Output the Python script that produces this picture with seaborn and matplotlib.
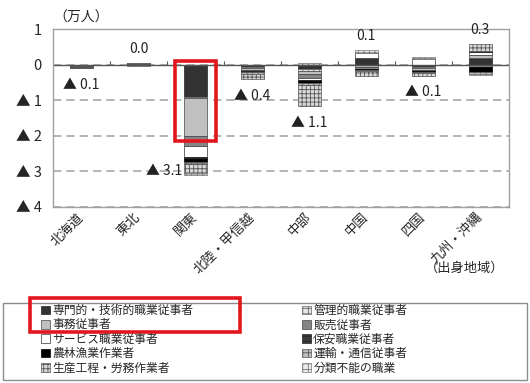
import numpy as np
import pandas as pd
import matplotlib
matplotlib.use("Agg")
import matplotlib.pyplot as plt
from matplotlib.patches import Patch, Rectangle
import seaborn as sns

# Regions of origin (x axis)
regions = ["北海道", "東北", "関東", "北陸・甲信越", "中部", "中国", "四国", "九州・沖縄"]

# Occupation groups in stacking order
occupations = [
    "専門的・技術的職業従事者", "管理的職業従事者", "事務従事者", "販売従事者",
    "サービス職業従事者", "保安職業従事者", "農林漁業作業者", "運輸・通信従事者",
    "生産工程・労務作業者", "分類不能の職業",
]

# Change by occupation (10,000 persons), one list per occupation, regions in order
senmon  = [-0.05,  0.02, -0.92, -0.08, -0.12,  0.18, -0.08,  0.18]
kanri   = [ 0.00,  0.00, -0.03, -0.01, -0.05, -0.02, -0.01,  0.02]
jimu    = [-0.03, -0.02, -1.05, -0.05, -0.10, -0.06, -0.05,  0.06]
hanbai  = [-0.01,  0.00, -0.30, -0.03, -0.10, -0.04, -0.04, -0.08]
service = [ 0.00,  0.02, -0.30, -0.02, -0.05,  0.15,  0.15,  0.10]
hoan    = [ 0.00,  0.00, -0.05, -0.01, -0.05,  0.01,  0.01,  0.02]
nourin  = [ 0.00,  0.00, -0.08, -0.02, -0.04, -0.03, -0.03, -0.12]
unyu    = [ 0.00,  0.00, -0.07, -0.03, -0.05, -0.04, -0.02, -0.05]
seisan  = [-0.01, -0.02, -0.25, -0.15, -0.60, -0.12, -0.08,  0.20]
fumei   = [ 0.00,  0.00, -0.05,  0.00,  0.06,  0.07,  0.05, -0.03]

series = [senmon, kanri, jimu, hanbai, service, hoan, nourin, unyu, seisan, fumei]

y_ticks = [1, 0, -1, -2, -3, -4]
y_tick_labels = ["1", "0", "▲ 1", "▲ 2", "▲ 3", "▲ 4"]

# Where each region's total label sits relative to its bar
label_side = ["below", "above", "left", "below", "below", "above", "below", "above"]

# Fill / hatch per occupation
styles = [
    dict(facecolor="#333333", hatch=None,  edgecolor="#222222"),
    dict(facecolor="#e6e6e6", hatch="+++", edgecolor="#666666"),
    dict(facecolor="#c0c0c0", hatch=None,  edgecolor="#444444"),
    dict(facecolor="#858585", hatch=None,  edgecolor="#444444"),
    dict(facecolor="#ffffff", hatch=None,  edgecolor="#333333"),
    dict(facecolor="#3c3c3c", hatch="---", edgecolor="#222222"),
    dict(facecolor="#000000", hatch=None,  edgecolor="#000000"),
    dict(facecolor="#bdbdbd", hatch="+++", edgecolor="#555555"),
    dict(facecolor="#d9d9d9", hatch="++++", edgecolor="#555555"),
    dict(facecolor="#ececec", hatch="+++", edgecolor="#777777"),
]

sns.set_theme(style="white")
plt.rcParams["font.family"] = ["Noto Sans CJK JP", "DejaVu Sans"]
plt.rcParams["hatch.linewidth"] = 0.6

fig = plt.figure(figsize=(5.3, 3.83), dpi=100)
ax = fig.add_axes([0.1, 0.46, 0.86, 0.464])

n = len(regions)
pos_base = np.zeros(n)
neg_base = np.zeros(n)
for vals, st in zip(series, styles):
    v = np.asarray(vals, dtype=float)
    bottom = np.where(v >= 0, pos_base, neg_base)
    sns.barplot(x=regions, y=v, order=regions, bottom=bottom, width=0.4,
                color=st["facecolor"], saturation=1, errorbar=None,
                hatch=st["hatch"], edgecolor=st["edgecolor"], linewidth=0.5,
                ax=ax)
    pos_base += np.where(v > 0, v, 0)
    neg_base += np.where(v < 0, v, 0)

totals = np.sum(np.asarray(series, dtype=float), axis=0)

ax.set_xlim(-0.5, n - 0.5)
ax.set_ylim(-4, 1)
ax.set_yticks(y_ticks)
ax.set_yticklabels(y_tick_labels, fontsize=10.5)
ax.set_xlabel("")
ax.set_ylabel("")
ax.tick_params(axis="both", length=0)
ax.tick_params(axis="y", pad=8)
ax.tick_params(axis="x", pad=6)
ax.set_xticks(range(n))
ax.set_xticklabels(regions, rotation=45, ha="right", va="center",
                   rotation_mode="anchor", fontsize=9.5)

# dashed horizontal gridlines
ax.yaxis.grid(True, color="#a8a8a8", linestyle=(0, (5, 3)), linewidth=1.2)
ax.set_axisbelow(True)
for sp in ax.spines.values():
    sp.set_visible(True)
    sp.set_color("#a0a0a0")
    sp.set_linewidth(1.0)

# zero baseline with small category-boundary ticks
ax.axhline(0, color="#555555", linewidth=1.0, zorder=1.5)
ax.vlines(np.arange(0.5, n - 0.5), 0, 0.1, color="#555555", linewidth=0.8, zorder=1.5)

# total labels
for i, (t, side) in enumerate(zip(totals, label_side)):
    txt = f"▲ {abs(t):.1f}" if t < -0.005 else f"{abs(t):.1f}"
    if side == "above":
        ax.annotate(txt, (i, pos_base[i]), xytext=(0, 5), textcoords="offset points",
                    ha="center", va="bottom", fontsize=10, color="#222222")
    elif side == "below":
        ax.annotate(txt, (i, neg_base[i]), xytext=(0, -7), textcoords="offset points",
                    ha="center", va="top", fontsize=10, color="#222222")
    else:
        ax.annotate(txt, (i - 0.2, neg_base[i] + 0.1), xytext=(-1, 0),
                    textcoords="offset points", ha="right", va="center",
                    fontsize=10, color="#222222")

# highlight on 関東: professional + clerical segments
k = regions.index("関東")
k_low = senmon[k] + kanri[k] + jimu[k]
ax.add_patch(Rectangle((k - 0.36, k_low - 0.15), 0.72, 0.26 - k_low,
                       fill=False, edgecolor="#e3161d", linewidth=2.6,
                       clip_on=False, zorder=5))

fig.text(53 / 530, 1 - 18 / 383, "（万人）", ha="left", va="center", fontsize=10)
fig.text(425 / 530, 1 - 268 / 383, "（出身地域）", ha="left", va="center", fontsize=9.5)

# legend in two columns
handles = [Patch(facecolor=st["facecolor"], hatch=st["hatch"], edgecolor=st["edgecolor"],
                 linewidth=0.5, label=lab) for st, lab in zip(styles, occupations)]
left_idx = [0, 2, 4, 6, 8]
right_idx = [1, 3, 5, 7, 9]
common = dict(frameon=False, loc="upper left", borderpad=0, borderaxespad=0,
              handlelength=0.75, handleheight=0.75, handletextpad=0.2,
              labelspacing=0.12, fontsize=8.5)
fig.legend([handles[i] for i in left_idx], [occupations[i] for i in left_idx],
           bbox_to_anchor=(41 / 530, 1 - 304 / 383), **common)
fig.legend([handles[i] for i in right_idx], [occupations[i] for i in right_idx],
           bbox_to_anchor=(302 / 530, 1 - 304 / 383), **common)
fig.add_artist(Rectangle((3 / 530, 1 - 380 / 383), 524 / 530, 77 / 383,
                         transform=fig.transFigure, fill=False,
                         edgecolor="#8c8c8c", linewidth=1.0))
fig.add_artist(Rectangle((30 / 530, 1 - 332 / 383), 210 / 530, 34 / 383,
                         transform=fig.transFigure, fill=False,
                         edgecolor="#e3161d", linewidth=2.6))

fig.savefig("out.png", dpi=100)
